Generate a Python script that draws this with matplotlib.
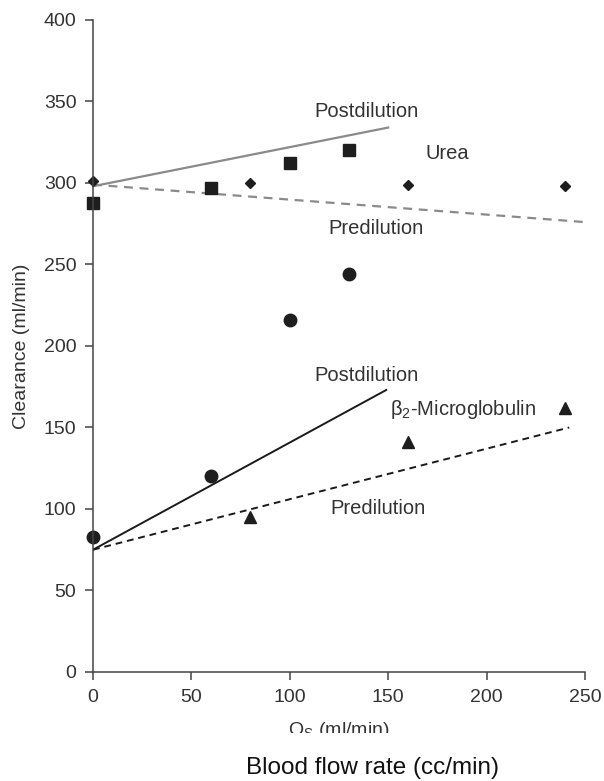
import matplotlib.pyplot as plt
from matplotlib.transforms import Bbox

plt.rcParams['font.family'] = ['Liberation Sans', 'DejaVu Sans']
plt.rcParams['mathtext.fontset'] = 'custom'
plt.rcParams['mathtext.rm'] = 'Liberation Sans'

# Urea data
urea_diamond_x = [0, 80, 160, 240]
urea_diamond_y = [301, 300, 299, 298]
urea_square_x = [0, 60, 100, 130]
urea_square_y = [288, 297, 312, 320]
urea_post_x = [0, 150]
urea_post_y = [298, 334]
urea_pre_x = [0, 250]
urea_pre_y = [299, 276]

# beta2-microglobulin data
b2m_circle_x = [0, 60, 100, 130]
b2m_circle_y = [83, 120, 216, 244]
b2m_triangle_x = [80, 160, 240]
b2m_triangle_y = [95, 141, 162]
b2m_post_x = [0, 149]
b2m_post_y = [75, 173]
b2m_pre_x = [0, 242]
b2m_pre_y = [75, 150]

x_ticks = [0, 50, 100, 150, 200, 250]
y_ticks = [0, 50, 100, 150, 200, 250, 300, 350, 400]

txt = '#333333'
fig = plt.figure(figsize=(6.04, 7.81), dpi=100)
ax = fig.add_axes([0.154, 0.1396, 0.8145, 0.8348])

ax.plot(urea_post_x, urea_post_y, color='#8a8a8a', lw=1.6)
ax.plot(urea_pre_x, urea_pre_y, color='#8a8a8a', lw=1.6, dashes=(4, 3))
ax.plot(b2m_post_x, b2m_post_y, color='#1a1a1a', lw=1.4)
ax.plot(b2m_pre_x, b2m_pre_y, color='#1a1a1a', lw=1.4, dashes=(3.5, 2.5))

ax.plot(urea_diamond_x, urea_diamond_y, 'D', color='#1e1e1e', ms=5.5, clip_on=False)
ax.plot(urea_square_x, urea_square_y, 's', color='#1e1e1e', ms=8.5, clip_on=False)
ax.plot(b2m_circle_x, b2m_circle_y, 'o', color='#1e1e1e', ms=9, clip_on=False)
ax.plot(b2m_triangle_x, b2m_triangle_y, '^', color='#1e1e1e', ms=8, clip_on=False)

fs = 14.5
ax.text(139, 344, 'Postdilution', ha='center', va='center', fontsize=fs, color=txt)
ax.text(180, 318, 'Urea', ha='center', va='center', fontsize=fs, color=txt)
ax.text(144, 272, 'Predilution', ha='center', va='center', fontsize=fs, color=txt)
ax.text(139, 182, 'Postdilution', ha='center', va='center', fontsize=fs, color=txt)
ax.text(188, 161, '\u03b2$_\\mathrm{2}$-Microglobulin', ha='center', va='center',
        fontsize=fs, color=txt)
ax.text(145, 100, 'Predilution', ha='center', va='center', fontsize=fs, color=txt)

ax.set_xlim(0, 250)
ax.set_ylim(0, 400)
ax.set_xticks(x_ticks)
ax.set_yticks(y_ticks)
for s in ['top', 'right']:
    ax.spines[s].set_visible(False)
for s in ['left', 'bottom']:
    ax.spines[s].set_color('#444444')
    ax.spines[s].set_linewidth(1.1)
ax.tick_params(direction='out', length=6, width=1.1, color='#444444',
               labelsize=14, labelcolor=txt, pad=6)

ax.set_ylabel('Clearance (ml/min)', fontsize=14, color=txt, labelpad=10)

# x axis label, bottom edge clipped like in the source figure
ql = fig.text(0.561, 1 - 735 / 781, r'Q$_\mathrm{S}$ (ml/min)', ha='center',
              va='baseline', fontsize=14, color=txt)
ql.set_clip_box(Bbox.from_extents(0, 781 - 733, 604, 781))
ql.set_clip_on(True)

fig.text(0.616, 1 - 768 / 781, 'Blood flow rate (cc/min)', ha='center', va='center',
         fontsize=17.5, color='#111111')

fig.savefig('out.png', dpi=100)
